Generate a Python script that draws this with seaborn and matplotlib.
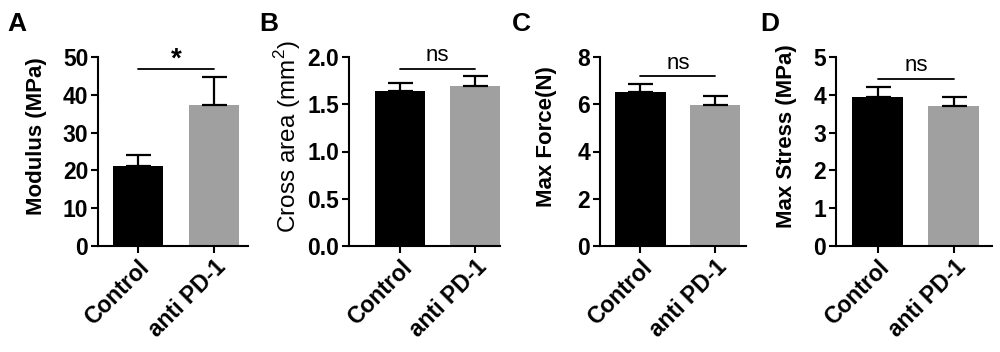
import matplotlib
matplotlib.use("Agg")
import matplotlib.pyplot as plt
import seaborn as sns

# dados
grupos = ["Control", "anti PD-1"]
cores = ["#000000", "#a0a0a0"]

modulus_media = [21.1, 37.4]
modulus_erro = [3.0, 7.4]
area_media = [1.64, 1.69]
area_erro = [0.08, 0.105]
forca_media = [6.51, 5.95]
forca_erro = [0.35, 0.39]
stress_media = [3.94, 3.70]
stress_erro = [0.27, 0.25]

paineis = ["A", "B", "C", "D"]
rotulos_y = ["Modulus (MPa)", "Cross area (mm$^2$)", "Max Force(N)", "Max Stress (MPa)"]
pesos_y = ["bold", "normal", "bold", "bold"]
tamanhos_y = [16, 17.5, 16, 16]
ticks_y = [[0, 10, 20, 30, 40, 50], [0.0, 0.5, 1.0, 1.5, 2.0], [0, 2, 4, 6, 8], [0, 1, 2, 3, 4, 5]]
formatos = ["{:.0f}", "{:.1f}", "{:.0f}", "{:.0f}"]
sig = ["*", "ns", "ns", "ns"]
y_barra_sig = [46.7, 1.873, 7.18, 4.43]

medias = [modulus_media, area_media, forca_media, stress_media]
erros = [modulus_erro, area_erro, forca_erro, stress_erro]

sns.set_style("ticks")
plt.rcParams["font.family"] = ["Liberation Sans", "DejaVu Sans"]
plt.rcParams["mathtext.fontset"] = "custom"
plt.rcParams["mathtext.rm"] = "Liberation Sans"
for chave in ["text.color", "axes.labelcolor", "xtick.color", "ytick.color", "axes.edgecolor"]:
    plt.rcParams[chave] = "black"

fig = plt.figure(figsize=(10, 3.52), dpi=100)

# posicoes em pixels: esquerda, largura
pos = [(98, 150), (349, 151), (600, 146), (836, 156)]
xlims = [(-0.526, 1.447), (-0.69, 1.336), (-0.54, 1.41), (-0.55, 1.5)]
label_x = [-0.34, -0.305, -0.295, -0.25]
letra_x = [7, 259, 512, 760]

for i in range(4):
    esq, larg = pos[i]
    ax = fig.add_axes([esq / 1000, 106 / 352, larg / 1000, 189 / 352])
    sns.barplot(x=grupos, y=medias[i], hue=grupos, palette=cores, legend=False,
                width=0.67, linewidth=0, ax=ax)
    ax.errorbar(x=[0, 1], y=medias[i], yerr=[[0, 0], erros[i]], fmt="none",
                ecolor="black", elinewidth=1.6, capsize=9, capthick=1.6)
    ax.set_xlim(*xlims[i])
    ax.set_ylim(0, ticks_y[i][-1])
    ax.set_yticks(ticks_y[i])
    ax.set_yticklabels([formatos[i].format(t) for t in ticks_y[i]], fontsize=16.5, fontweight="bold")
    ax.set_xticks([0, 1])
    ax.set_xticklabels(grupos, fontsize=16.5, fontweight="bold", rotation=45,
                       ha="right", rotation_mode="anchor")
    ax.set_ylabel(rotulos_y[i], fontsize=tamanhos_y[i], fontweight=pesos_y[i])
    ax.yaxis.set_label_coords(label_x[i], 0.58)
    ax.set_xlabel("")
    sns.despine(ax=ax)
    for s in ["left", "bottom"]:
        ax.spines[s].set_linewidth(1.5)
    ax.tick_params(width=1.5, length=5, pad=2)

    yb = y_barra_sig[i]
    ax.plot([0, 1], [yb, yb], color="black", lw=1.3, clip_on=False)
    if sig[i] == "*":
        ax.annotate("*", xy=(0.5, yb), xytext=(0, -2), textcoords="offset points",
                    ha="center", va="bottom", fontsize=20, fontweight="bold",
                    annotation_clip=False)
    else:
        ax.annotate("ns", xy=(0.5, yb), xytext=(0, 2), textcoords="offset points",
                    ha="center", va="bottom", fontsize=16, annotation_clip=False)

    fig.text(letra_x[i] / 1000, 1 - 12 / 352, paineis[i], fontsize=19,
             fontweight="bold", va="top", ha="left")

fig.savefig("out.png", dpi=100)
